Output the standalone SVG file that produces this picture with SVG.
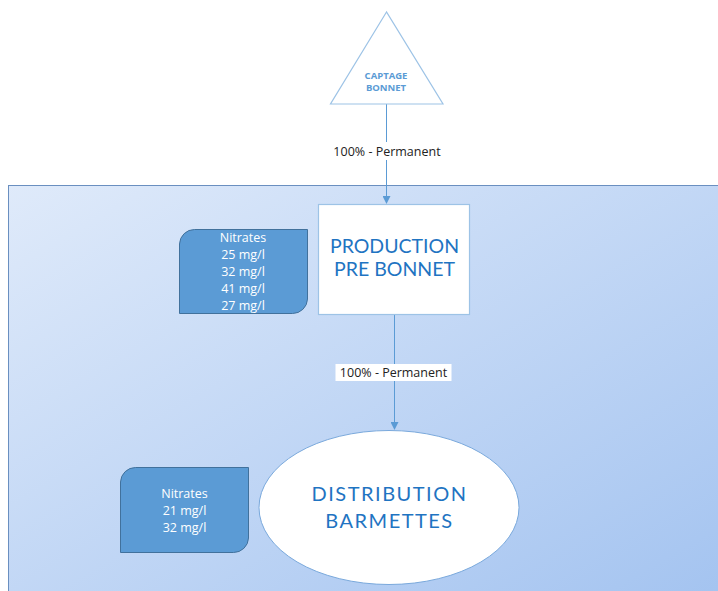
<svg xmlns="http://www.w3.org/2000/svg" width="718" height="591" viewBox="0 0 718 591">
<defs>
<linearGradient id="bg" x1="0" y1="0" x2="1" y2="1">
<stop offset="0" stop-color="#dfeafa"/>
<stop offset="1" stop-color="#a3c3f0"/>
</linearGradient>
<marker id="arr" markerWidth="8" markerHeight="8" refX="7" refY="4" orient="auto" markerUnits="userSpaceOnUse">
<path d="M0,0 L8,4 L0,8 Z" fill="#5b9bd5"/>
</marker>
<style>
.conn{stroke:#5b9bd5;stroke-width:1;fill:none}
.lbl{font-family:"Open Sans","Noto Sans",sans-serif;font-size:12.5px;fill:#222;text-anchor:middle}
.note{fill:#5b9bd5;stroke:#41719c;stroke-width:1}
.notet{font-family:"Open Sans","Noto Sans",sans-serif;font-size:12.5px;fill:#fff;text-anchor:middle}
.big{font-family:"Lato","Open Sans",sans-serif;fill:#1f74c2;text-anchor:middle}
</style>
</defs>
<rect x="0" y="0" width="718" height="591" fill="#fff"/>
<rect id="zone" x="8.5" y="185.5" width="720" height="420" fill="url(#bg)" stroke="#6a8fc0" stroke-width="1"/>
<g id="connectors">
<line class="conn" x1="386.5" y1="104" x2="386.5" y2="142"/>
<line class="conn" x1="386.5" y1="160" x2="386.5" y2="203" marker-end="url(#arr)"/>
<text class="lbl" x="387" y="156">100% - Permanent</text>
<line class="conn" x1="394.5" y1="315" x2="394.5" y2="429" marker-end="url(#arr)"/>
<rect x="335.5" y="364" width="116" height="17" fill="#fff"/>
<text class="lbl" x="393.5" y="377">100% - Permanent</text>
</g>
<g id="captage">
<polygon points="386.5,12 330.5,104 443,104" fill="#fff" stroke="#9dc3e6" stroke-width="1.2"/>
<text font-family="Open Sans, Noto Sans, sans-serif" font-size="9.5" font-weight="bold" fill="#5b9bd5" text-anchor="middle"><tspan x="386" y="79">CAPTAGE</tspan><tspan x="386" y="91">BONNET</tspan></text>
</g>
<g id="production">
<rect x="318.5" y="204.5" width="151" height="110" fill="#fff" stroke="#9dc3e6" stroke-width="1.2"/>
<text class="big" font-size="19.5"><tspan x="394.5" y="253">PRODUCTION</tspan><tspan x="394.5" y="276">PRE BONNET</tspan></text>
</g>
<g id="nitrates1">
<path class="note" d="M179.5,244 A15,15 0 0 1 194.5,229.5 H307.5 V299 A15,15 0 0 1 292.5,313.5 H179.5 Z"/>
<text class="notet"><tspan x="243" y="242">Nitrates</tspan><tspan x="243" y="259">25 mg/l</tspan><tspan x="243" y="276">32 mg/l</tspan><tspan x="243" y="293">41 mg/l</tspan><tspan x="243" y="310">27 mg/l</tspan></text>
</g>
<g id="distribution">
<ellipse cx="389" cy="507.5" rx="130" ry="77" fill="#fff" stroke="#7aa9dc" stroke-width="1"/>
<text class="big" font-size="20" letter-spacing="1.5"><tspan x="389.5" y="501">DISTRIBUTION</tspan><tspan x="389.5" y="528">BARMETTES</tspan></text>
</g>
<g id="nitrates2">
<path class="note" d="M120.5,482 A15,15 0 0 1 135.5,467.5 H248.5 V538 A15,15 0 0 1 233.5,552.5 H120.5 Z"/>
<text class="notet"><tspan x="184.5" y="498">Nitrates</tspan><tspan x="184.5" y="515">21 mg/l</tspan><tspan x="184.5" y="532">32 mg/l</tspan></text>
</g>
</svg>
